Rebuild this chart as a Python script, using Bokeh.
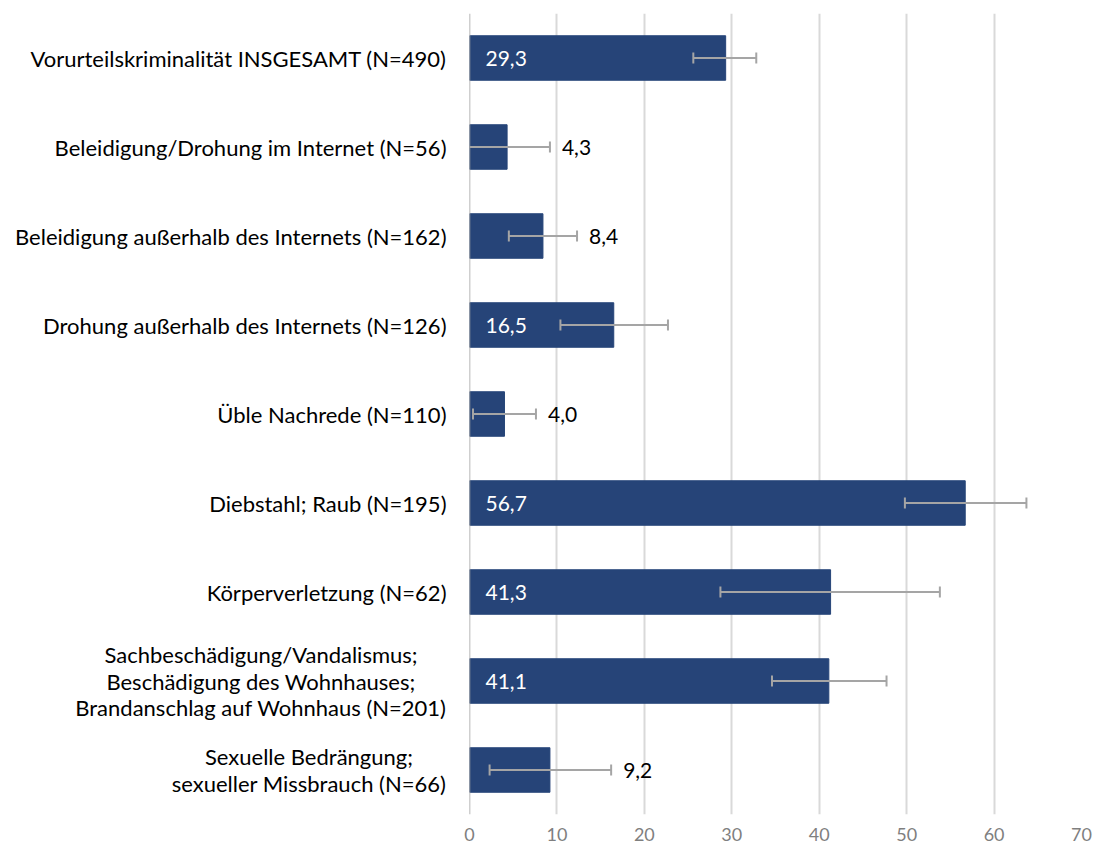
from bokeh.plotting import figure
from bokeh.layouts import row
from bokeh.models import ColumnDataSource, Whisker, TeeHead, FactorRange, Range1d, FixedTicker, Span
from bokeh.core.properties import value
from bokeh.embed import file_html
from bokeh.resources import INLINE

categories = [
    "Vorurteilskriminalität INSGESAMT (N=490)",
    "Beleidigung/Drohung im Internet (N=56)",
    "Beleidigung außerhalb des Internets (N=162)",
    "Drohung außerhalb des Internets (N=126)",
    "Üble Nachrede (N=110)",
    "Diebstahl; Raub (N=195)",
    "Körperverletzung (N=62)",
    "Sachbeschädigung/Vandalismus;\nBeschädigung des Wohnhauses;\nBrandanschlag auf Wohnhaus (N=201)",
    "Sexuelle Bedrängung;\nsexueller Missbrauch (N=66)",
]
values = [29.3, 4.3, 8.4, 16.5, 4.0, 56.7, 41.3, 41.1, 9.2]
ci_lower = [25.6, -0.5, 4.5, 10.4, 0.4, 49.8, 28.7, 34.6, 2.3]
ci_upper = [32.8, 9.2, 12.3, 22.7, 7.6, 63.7, 53.8, 47.7, 16.2]
x_ticks = [0, 10, 20, 30, 40, 50, 60, 70]

FONT = "Lato"
BAR = "#264478"
CAT_SIZE = 22
LINE_H = 26.5
LEFT_W = 459          # width of the label panel (px)
LABEL_RIGHT = 446     # right edge of the category labels (px)
TOP, BOTTOM, HEIGHT = 13, 32, 846

labels = [f"{v:.1f}".replace(".", ",") for v in values]
inside = [v >= 15 for v in values]

factors = list(reversed(categories))
y_range = FactorRange(factors=factors)

# ---------------- label panel ----------------
lp = figure(width=LEFT_W, height=HEIGHT, x_range=Range1d(0, LEFT_W), y_range=y_range,
            output_backend="svg", toolbar_location=None,
            x_axis_location=None, y_axis_location=None,
            min_border_left=0, min_border_right=0, min_border_top=TOP, min_border_bottom=BOTTOM)
lp.outline_line_color = None
lp.xgrid.grid_line_color = None
lp.ygrid.grid_line_color = None

single = dict(cat=[], x=[], t=[])
multi = dict(cat=[], x=[], t=[], dy=[])
# approximate pixel width of the longest line of each multi-line label at CAT_SIZE
block_width = {categories[7]: 371, categories[8]: 275}
for cat in categories:
    lines = cat.split("\n")
    if len(lines) == 1:
        single["cat"].append(cat); single["x"].append(LABEL_RIGHT); single["t"].append(cat)
    else:
        n = len(lines)
        for k, line in enumerate(lines):
            multi["cat"].append(cat)
            multi["x"].append(LABEL_RIGHT - block_width[cat] / 2)
            multi["t"].append(line)
            multi["dy"].append((k - (n - 1) / 2) * LINE_H)

lp.text(x="x", y="cat", text="t", source=ColumnDataSource(single),
        text_align="right", text_baseline="middle", text_color="black",
        text_font=value(FONT), text_font_size=f"{CAT_SIZE}px")
lp.text(x="x", y="cat", text="t", y_offset="dy", source=ColumnDataSource(multi),
        text_align="center", text_baseline="middle", text_color="black",
        text_font=value(FONT), text_font_size=f"{CAT_SIZE}px")

# ---------------- chart ----------------
src = ColumnDataSource(dict(cat=categories, val=values, lo=ci_lower, hi=ci_upper))
src_in = ColumnDataSource(dict(
    cat=[c for c, i in zip(categories, inside) if i],
    x=[0 for i in inside if i],
    lab=[l for l, i in zip(labels, inside) if i],
))
src_out = ColumnDataSource(dict(
    cat=[c for c, i in zip(categories, inside) if not i],
    x=[h for h, i in zip(ci_upper, inside) if not i],
    lab=[l for l, i in zip(labels, inside) if not i],
))

p = figure(
    width=1093 - LEFT_W, height=HEIGHT,
    y_range=y_range, x_range=Range1d(0, 70),
    output_backend="svg", toolbar_location=None, y_axis_location=None,
    min_border_left=10, min_border_right=12, min_border_top=TOP, min_border_bottom=BOTTOM,
)
p.outline_line_color = None

p.hbar(y="cat", right="val", left=0, height=0.5, source=src,
       fill_color=BAR, line_color=BAR)

w = Whisker(base="cat", lower="lo", upper="hi", source=src, dimension="width",
            line_color="#a5a5a5", line_width=2, level="overlay")
w.upper_head = TeeHead(size=11, line_color="#a5a5a5", line_width=2)
w.lower_head = TeeHead(size=11, line_color="#a5a5a5", line_width=2)
p.add_layout(w)

p.text(x="x", y="cat", text="lab", source=src_in, x_offset=16,
       text_align="left", text_baseline="middle", text_color="white",
       text_font=value(FONT), text_font_size="21px")
p.text(x="x", y="cat", text="lab", source=src_out, x_offset=12,
       text_align="left", text_baseline="middle", text_color="black",
       text_font=value(FONT), text_font_size="21px")

p.add_layout(Span(location=0, dimension="height", line_color="#a0a0a0",
                  line_width=1.5, level="overlay"))

p.xaxis.ticker = FixedTicker(ticks=x_ticks)
p.xaxis.axis_line_color = None
p.xaxis.major_tick_line_color = None
p.xaxis.minor_tick_line_color = None
p.xaxis.major_tick_out = 0
p.xaxis.major_tick_in = 0
p.xaxis.major_label_standoff = 13
p.xaxis.major_label_text_font = FONT
p.xaxis.major_label_text_font_size = "18px"
p.xaxis.major_label_text_color = "#7f7f7f"

p.ygrid.grid_line_color = None
p.xgrid.grid_line_color = "#d9d9d9"
p.xgrid.grid_line_width = 2

layout = row(lp, p, spacing=0)
open("out.html", "w").write(file_html(layout, INLINE))
